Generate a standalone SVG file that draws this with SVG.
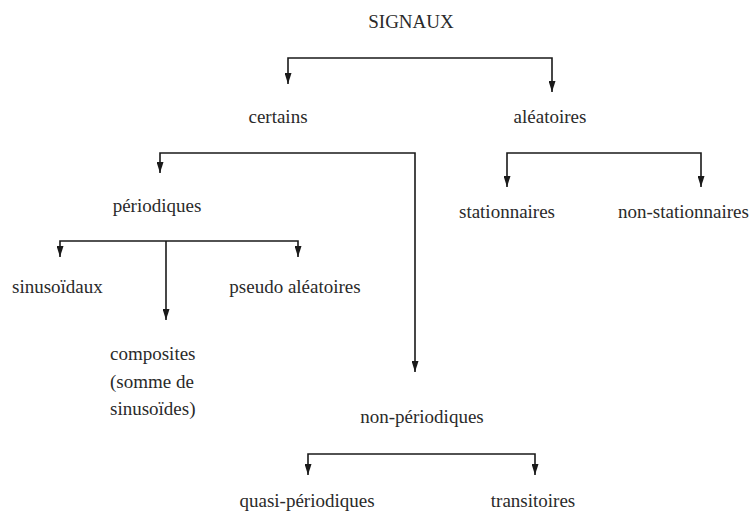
<svg xmlns="http://www.w3.org/2000/svg" width="751" height="517" viewBox="0 0 751 517">
<defs>
<marker id="ah" markerUnits="userSpaceOnUse" markerWidth="11" markerHeight="7" refX="11" refY="3.5" orient="auto">
<path d="M0,0 L11,3.5 L0,7 z" fill="#1a1a1a"/>
</marker>
</defs>
<rect width="751" height="517" fill="#fff"/>
<g id="connectors" fill="none" stroke="#1a1a1a" stroke-width="1.6">
<path d="M420,58 L288,58 L288,84" marker-end="url(#ah)"/>
<path d="M420,58 L552,58 L552,92" marker-end="url(#ah)"/>
<path d="M300,153 L160,153 L160,173" marker-end="url(#ah)"/>
<path d="M300,153 L415,153 L415,372" marker-end="url(#ah)"/>
<path d="M604,153 L507,153 L507,187" marker-end="url(#ah)"/>
<path d="M604,153 L701,153 L701,187" marker-end="url(#ah)"/>
<path d="M166,241 L60,241 L60,257" marker-end="url(#ah)"/>
<path d="M166,241 L298,241 L298,257" marker-end="url(#ah)"/>
<path d="M166,241 L166,320" marker-end="url(#ah)"/>
<path d="M420,454 L308,454 L308,475" marker-end="url(#ah)"/>
<path d="M420,454 L535,454 L535,475" marker-end="url(#ah)"/>
</g>
<g id="signaux"><text font-family="Liberation Serif" font-size="19" fill="#2a2a2a" text-anchor="middle" x="411" y="28">SIGNAUX</text></g>
<g id="certains"><text font-family="Liberation Serif" font-size="19" fill="#2a2a2a" text-anchor="middle" x="278" y="123">certains</text></g>
<g id="aleatoires"><text font-family="Liberation Serif" font-size="19" fill="#2a2a2a" text-anchor="middle" x="550" y="123">aléatoires</text></g>
<g id="periodiques"><text font-family="Liberation Serif" font-size="19" fill="#2a2a2a" text-anchor="middle" x="157" y="212">périodiques</text></g>
<g id="stationnaires"><text font-family="Liberation Serif" font-size="19" fill="#2a2a2a" text-anchor="middle" x="507" y="218">stationnaires</text></g>
<g id="non-stationnaires"><text font-family="Liberation Serif" font-size="19" fill="#2a2a2a" x="618" y="218">non-stationnaires</text></g>
<g id="sinusoidaux"><text font-family="Liberation Serif" font-size="19" fill="#2a2a2a" x="12" y="293">sinusoïdaux</text></g>
<g id="pseudo-aleatoires"><text font-family="Liberation Serif" font-size="19" fill="#2a2a2a" text-anchor="middle" x="295" y="293">pseudo aléatoires</text></g>
<g id="composites" font-family="Liberation Serif" font-size="19" fill="#2a2a2a"><text font-family="Liberation Serif" x="110" y="360">composites</text><text font-family="Liberation Serif" x="110" y="388">(somme de</text><text font-family="Liberation Serif" x="110" y="415">sinusoïdes)</text></g>
<g id="non-periodiques"><text font-family="Liberation Serif" font-size="19" fill="#2a2a2a" text-anchor="middle" x="422" y="423">non-périodiques</text></g>
<g id="quasi-periodiques"><text font-family="Liberation Serif" font-size="19" fill="#2a2a2a" text-anchor="middle" x="307" y="507">quasi-périodiques</text></g>
<g id="transitoires"><text font-family="Liberation Serif" font-size="19" fill="#2a2a2a" text-anchor="middle" x="533" y="507">transitoires</text></g>
</svg>
